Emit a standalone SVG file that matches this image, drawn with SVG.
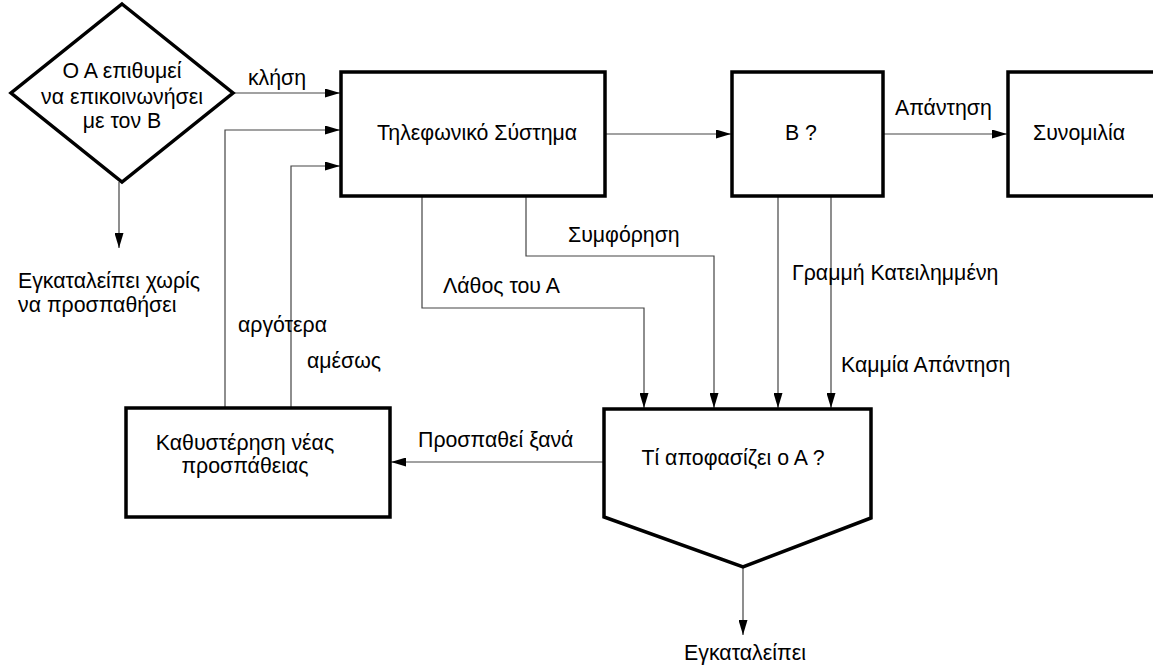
<svg xmlns="http://www.w3.org/2000/svg" width="1153" height="668" viewBox="0 0 1153 668">
<defs>
<style>
.n{fill:#fff;stroke:#000;stroke-width:3.5;stroke-linejoin:miter}
.c{fill:none;stroke:#444;stroke-width:1.2}
text{font-family:"Liberation Sans",Arial,sans-serif;font-size:21.3px;fill:#000}
.m{text-anchor:middle}
</style>
<marker id="a" viewBox="0 0 15 9" refX="15" refY="4.5" markerWidth="15" markerHeight="9" markerUnits="userSpaceOnUse" orient="auto">
<path d="M0,0 L15,4.5 L0,9 Z" fill="#000"/>
</marker>
</defs>
<rect width="1153" height="668" fill="#fff"/>
<g id="connectors">
<path class="c" d="M234,93 H340" marker-end="url(#a)"/>
<path class="c" d="M225,408 V130 H340" marker-end="url(#a)"/>
<path class="c" d="M291,408 V166 H340" marker-end="url(#a)"/>
<path class="c" d="M119,182 V248" marker-end="url(#a)"/>
<path class="c" d="M605,134 H731" marker-end="url(#a)"/>
<path class="c" d="M883,134 H1007" marker-end="url(#a)"/>
<path class="c" d="M422,196 V308 H644 V408" marker-end="url(#a)"/>
<path class="c" d="M526,196 V256 H714 V408" marker-end="url(#a)"/>
<path class="c" d="M778,196 V408" marker-end="url(#a)"/>
<path class="c" d="M831,196 V408" marker-end="url(#a)"/>
<path class="c" d="M604,462 H391" marker-end="url(#a)"/>
<path class="c" d="M743,567 V635" marker-end="url(#a)"/>
</g>
<g id="labels">
<text x="277" y="85" class="m">κλήση</text>
<text x="18" y="288">Εγκαταλείπει χωρίς</text>
<text x="18" y="312">να προσπαθήσει</text>
<text x="895" y="115">Απάντηση</text>
<text x="568" y="242">Συμφόρηση</text>
<text x="443" y="293">Λάθος του Α</text>
<text x="792" y="280">Γραμμή Κατειλημμένη</text>
<text x="841" y="372">Καμμία Απάντηση</text>
<text x="238" y="332">αργότερα</text>
<text x="307" y="368">αμέσως</text>
<text x="418" y="447">Προσπαθεί ξανά</text>
<text x="745" y="660" class="m">Εγκαταλείπει</text>
</g>
<g id="start">
<polygon class="n" points="122,4 233,93 122,182 11,93"/>
<text x="122" y="78" class="m">Ο Α επιθυμεί</text>
<text x="122" y="104" class="m">να επικοινωνήσει</text>
<text x="122" y="128" class="m">με τον Β</text>
</g>
<g id="phone">
<rect class="n" x="341" y="72" width="264" height="124"/>
<text x="477" y="140" class="m">Τηλεφωνικό Σύστημα</text>
</g>
<g id="b">
<rect class="n" x="732" y="72" width="151" height="124"/>
<text x="785" y="140">Β ?</text>
</g>
<g id="talk">
<rect class="n" x="1008" y="72" width="170" height="124"/>
<text x="1033" y="140">Συνομιλία</text>
</g>
<g id="decide">
<polygon class="n" points="604,409 871,409 871,518 743,567 604,517"/>
<text x="733" y="465" class="m">Τί αποφασίζει ο Α ?</text>
</g>
<g id="delay">
<rect class="n" x="126" y="408" width="264" height="109"/>
<text x="245" y="450" class="m">Καθυστέρηση νέας</text>
<text x="245" y="473" class="m">προσπάθειας</text>
</g>
</svg>
